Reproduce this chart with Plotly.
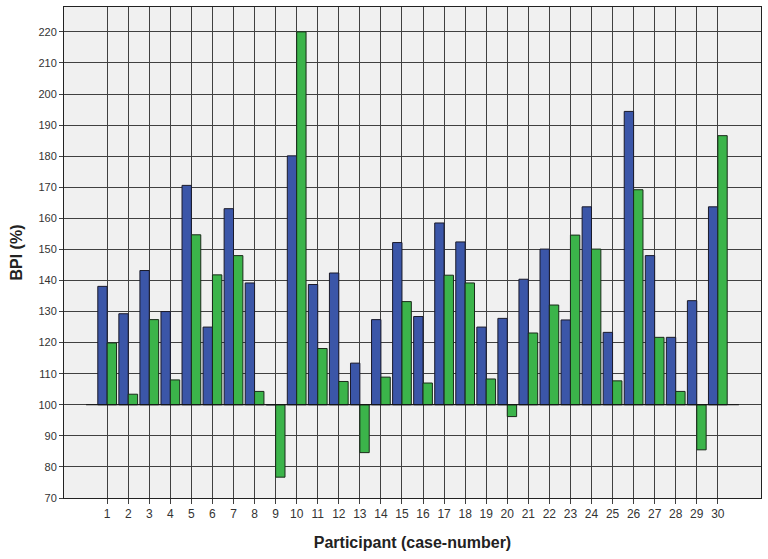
import plotly.graph_objects as go

participants = list(range(1, 31))
bpi_blue = [138.1, 129.3, 143.2, 130.0, 170.6, 125.0, 163.1, 139.2, 100.0, 180.1,
            138.7, 142.4, 113.4, 127.4, 152.2, 128.4, 158.5, 152.4, 125.0, 127.8,
            140.4, 150.1, 127.3, 163.7, 123.3, 194.4, 148.0, 121.7, 133.5, 163.7]
bpi_green = [119.9, 103.4, 127.4, 108.0, 154.7, 141.8, 148.0, 104.3, 76.7, 220.0,
             118.1, 107.5, 84.6, 108.9, 133.2, 107.0, 141.7, 139.2, 108.3, 96.2,
             123.1, 132.1, 154.6, 150.1, 107.7, 169.2, 121.7, 104.3, 85.5, 186.6]
baseline = 100
y_ticks = list(range(70, 221, 10))

FONT = "Liberation Sans Narrow, Liberation Sans, Arial"

fig = go.Figure()
fig.add_trace(go.Bar(x=participants, y=[v - baseline for v in bpi_blue], base=baseline,
                     marker=dict(color="#3b56a8", line=dict(color="#1a1a2a", width=1)),
                     name="A"))
fig.add_trace(go.Bar(x=participants, y=[v - baseline for v in bpi_green], base=baseline,
                     marker=dict(color="#3bb44a", line=dict(color="#1a2a1a", width=1)),
                     name="B"))

fig.add_shape(type="line", xref="x", yref="y", x0=0, x1=31, y0=baseline, y1=baseline,
              line=dict(color="#111111", width=1.2), layer="above")

fig.update_layout(
    width=768, height=559,
    margin=dict(l=64, r=7, t=7, b=61, autoexpand=False),
    barmode="group", bargap=0.11, bargroupgap=0,
    showlegend=False,
    paper_bgcolor="white", plot_bgcolor="#f0f0f0",
    font=dict(family=FONT, color="#333333"),
)
fig.update_xaxes(
    automargin=False,
    range=[-1.05, 32.05], tickmode="array", tickvals=participants,
    ticktext=[str(p) for p in participants],
    showgrid=True, gridcolor="#404040", gridwidth=1.3,
    ticks="outside", ticklen=5, tickcolor="#404040",
    showline=True, linecolor="#222222", linewidth=1, mirror=True,
    zeroline=False, tickfont=dict(size=12, color="#333333"),
    title=dict(text="<b>Participant (case-number)</b>",
               font=dict(size=16, family=FONT, color="#222222"),
               standoff=16),
)
fig.update_yaxes(
    automargin=False,
    range=[70, 228], tickmode="array", tickvals=y_ticks,
    showgrid=True, gridcolor="#404040", gridwidth=1.3,
    ticks="outside", ticklen=4, tickcolor="#404040",
    showline=True, linecolor="#222222", linewidth=1, mirror=True,
    zeroline=False, tickfont=dict(size=11, color="#333333"),
    title=dict(text="<b>BPI (%)</b>",
               font=dict(size=16, family=FONT, color="#222222"),
               standoff=11),
)

fig.write_html("out.html",
               config={"displayModeBar": False},
               post_script="document.body.style.margin='0';document.body.style.overflow='hidden';")
